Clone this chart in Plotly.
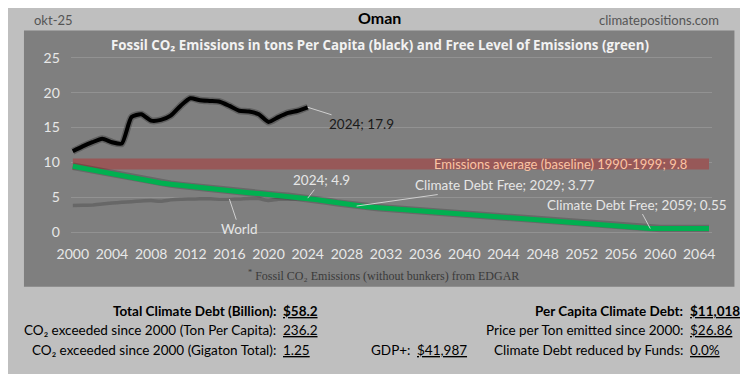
import plotly.graph_objects as go

W, H = 748, 374
OFF = 8  # page offset of the plot inside the browser window

years = list(range(2000, 2025))
oman = [11.6, 12.3, 12.9, 13.4, 12.9, 12.7, 16.5, 16.9, 16.0, 16.1, 16.7, 18.1, 19.2,
        18.9, 18.8, 18.7, 18.1, 17.4, 17.3, 16.9, 15.8, 16.5, 17.1, 17.4, 17.9]
world = [3.85, 3.87, 3.90, 4.05, 4.20, 4.30, 4.40, 4.50, 4.55, 4.45, 4.65, 4.75, 4.78,
         4.80, 4.80, 4.75, 4.75, 4.78, 4.85, 4.85, 4.55, 4.75, 4.75, 4.82, 4.85]

free_years = list(range(2000, 2066))
free_level = [9.46, 9.18, 8.90, 8.63, 8.37, 8.12, 7.88, 7.64, 7.36, 7.07,
              6.90, 6.73, 6.56, 6.40, 6.25, 6.10, 5.96, 5.82, 5.68, 5.55,
              5.42, 5.29, 5.16, 5.03, 4.90, 4.67, 4.45, 4.22, 4.00, 3.77,
              3.66, 3.56, 3.45, 3.34, 3.24, 3.13, 3.02, 2.91, 2.81, 2.70,
              2.59, 2.48, 2.38, 2.27, 2.16, 2.06, 1.95, 1.84, 1.73, 1.63,
              1.52, 1.41, 1.30, 1.20, 1.09, 0.98, 0.87, 0.77, 0.66, 0.55,
              0.55, 0.55, 0.55, 0.55, 0.55, 0.55]

baseline_years = [2000, 2065]
baseline_value = 9.8

x_ticks = list(range(2000, 2065, 4))
y_ticks = [0, 5, 10, 15, 20, 25]

FONT = "Lato"


def px(x):
    return (x - OFF) / W


def py(y):
    return 1 - (y - OFF) / H


fig = go.Figure()

fig.add_trace(go.Scatter(x=baseline_years, y=[baseline_value] * 2, mode="lines",
                         line=dict(color="#975858", width=11), hoverinfo="skip"))
fig.add_trace(go.Scatter(x=years, y=world, mode="lines",
                         line=dict(color="#676767", width=3.5, shape="spline", smoothing=0.6),
                         hoverinfo="skip"))
fig.add_trace(go.Scatter(x=free_years, y=free_level, mode="lines",
                         line=dict(color="rgba(0,0,0,0.18)", width=7.5), hoverinfo="skip"))
fig.add_trace(go.Scatter(x=free_years, y=free_level, mode="lines",
                         line=dict(color="#00b050", width=5), hoverinfo="skip"))
fig.add_trace(go.Scatter(x=years, y=oman, mode="lines",
                         line=dict(color="rgba(0,0,0,0.25)", width=7, shape="spline", smoothing=0.6),
                         hoverinfo="skip"))
fig.add_trace(go.Scatter(x=years, y=oman, mode="lines",
                         line=dict(color="#000000", width=4, shape="spline", smoothing=0.6),
                         hoverinfo="skip"))

# dark panel behind the chart
fig.add_shape(type="rect", xref="paper", yref="paper", x0=px(10), x1=px(737),
              y0=py(289), y1=py(25), fillcolor="#7f7f7f", line=dict(width=0), layer="below")

ann = []


def label(x, y, text, ax, ay, color, size=13.5):
    ann.append(dict(x=x, y=y, xref="x", yref="y", text=text, showarrow=True, arrowhead=0,
                    arrowwidth=1, arrowcolor="#cfcfcf", ax=ax, ay=ay, standoff=0,
                    font=dict(family=FONT, size=size, color=color)))


label(years[-1], oman[-1], "2024; 17.9", 54, 17, "#1a1a1a")
label(2024, free_level[24], "2024; 4.9", 14, -18, "#e6e6e6")
label(2029, free_level[29], "Climate Debt Free; 2029; 3.77", 148, -21, "#e6e6e6")
label(2059, free_level[59], "Climate Debt Free; 2059; 0.55", -13, -24, "#e6e6e6")
label(2016, world[16], "World", 10, 30, "#e6e6e6")

ann.append(dict(x=2063.0, y=baseline_value, xref="x", yref="y", xanchor="right",
                text="Emissions average (baseline) 1990-1999; 9.8", showarrow=False,
                font=dict(family=FONT, size=13, color="#fbc4a4")))


def ptext(x, y, text, size=13, color="#000", anchor="center", family=FONT):
    ann.append(dict(x=px(x), y=py(y), xref="paper", yref="paper", text=text,
                    showarrow=False, xanchor=anchor, yanchor="middle",
                    font=dict(family=family, size=size, color=color)))


ptext(40, 14, "okt-25", 13, "#555555")
ptext(374, 12, "<b>Oman</b>", 16, "#000000")
ptext(723, 14, "climatepositions.com", 13, "#555555", "right")
ptext(374, 40, "<b>Fossil CO₂ Emissions in tons Per Capita (black) and Free Level of Emissions (green)</b>",
      13.3, "#f2f2f2", family="Open Sans")
ptext(378, 277, "<sup>*</sup> Fossil CO₂ Emissions (without bunkers) from EDGAR", 12, "#3a3a3a",
      family="Liberation Serif")

rows = [
    (314, "<b>Total Climate Debt (Billion):</b>", "<b><u>$58.2</u></b>"),
    (334, "CO₂ exceeded since 2000 (Ton Per Capita):", "<u>236.2</u>"),
    (354, "CO₂ exceeded since 2000 (Gigaton Total):", "<u>1.25</u>"),
]
for y, lab, val in rows:
    ptext(270, y, lab, 13.5, "#000", "right")
    ptext(273, y, val, 13.5, "#000", "left")

rrows = [
    (314, "<b>Per Capita Climate Debt:</b>", "<b><u>$11,018</u></b>"),
    (334, "Price per Ton emitted since 2000:", "<u>$26.86</u>"),
    (354, "Climate Debt reduced by Funds:", "<u>0.0%</u>"),
]
for y, lab, val in rrows:
    ptext(686, y, lab, 13.5, "#000", "right")
    ptext(689, y, val, 13.5, "#000", "left")

ptext(407, 354, "GDP+:", 13.5, "#000", "right")
ptext(410, 354, "<u>$41,987</u>", 13.5, "#000", "left")

fig.update_layout(
    width=W, height=H, margin=dict(l=0, r=0, t=0, b=0),
    paper_bgcolor="#bfbfbf", plot_bgcolor="rgba(0,0,0,0)",
    showlegend=False, annotations=ann,
    xaxis=dict(domain=[px(58), px(714)], range=[1999.8, 2065.3], tickvals=x_ticks,
               showgrid=False, zeroline=False, showline=False, ticks="",
               ticklabelstandoff=9,
               tickfont=dict(family=FONT, size=14, color="#e8e8e8")),
    yaxis=dict(domain=[py(236), py(50)], range=[-3 / 7.2, 25 + 3 / 7.2], tickvals=y_ticks,
               showgrid=True, gridcolor="#929292", gridwidth=1, zeroline=False,
               showline=False, ticks="", ticklabelstandoff=10,
               tickfont=dict(family=FONT, size=14, color="#e8e8e8")),
)

fig.write_html("out.html")
